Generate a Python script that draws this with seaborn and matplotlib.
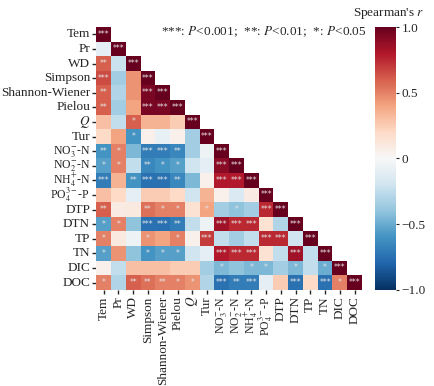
import numpy as np
import pandas as pd
import matplotlib
matplotlib.use("Agg")
import matplotlib.pyplot as plt
import seaborn as sns

# variable names (tick labels)
labels = ["Tem", "Pr", "WD", "Simpson", "Shannon-Wiener", "Pielou", "$Q$", "Tur",
          "NO$_3^{-}$-N", "NO$_2^{-}$-N", "NH$_4^{+}$-N", "PO$_4^{3-}$-P",
          "DTP", "DTN", "TP", "TN", "DIC", "DOC"]

# lower triangle of the Spearman correlation matrix, one row per variable
r_rows = [
    [1.0],
    [-0.10, 1.0],
    [0.60, -0.22, 1.0],
    [0.65, -0.35, 0.45, 1.0],
    [0.60, -0.30, 0.45, 0.95, 1.0],
    [0.60, -0.35, 0.40, 0.95, 0.95, 1.0],
    [0.30, -0.25, 0.60, 0.35, 0.35, 0.25, 1.0],
    [0.20, 0.40, -0.60, 0.05, -0.08, 0.05, -0.35, 1.0],
    [-0.60, 0.50, -0.45, -0.70, -0.70, -0.65, -0.35, -0.05, 1.0],
    [-0.55, 0.50, -0.25, -0.65, -0.60, -0.55, -0.20, -0.10, 0.90, 1.0],
    [-0.70, 0.35, -0.60, -0.75, -0.75, -0.65, -0.45, 0.05, 0.80, 0.80, 1.0],
    [0.30, 0.20, -0.10, 0.25, 0.25, 0.20, -0.20, 0.35, 0.05, -0.15, 0.08, 1.0],
    [0.60, 0.08, 0.10, 0.55, 0.50, 0.50, 0.15, 0.40, -0.35, -0.40, -0.35, 0.75, 1.0],
    [-0.55, 0.50, -0.40, -0.75, -0.75, -0.70, -0.25, -0.05, 0.85, 0.75, 0.75, 0.15, -0.30, 1.0],
    [0.50, 0.10, -0.05, 0.45, 0.40, 0.50, 0.05, 0.70, -0.25, -0.35, -0.25, 0.75, 0.75, -0.20, 1.0],
    [-0.55, 0.45, -0.40, -0.60, -0.55, -0.55, -0.20, -0.10, 0.80, 0.75, 0.75, 0.15, -0.25, 0.85, -0.25, 1.0],
    [0.05, -0.25, 0.30, 0.30, 0.30, 0.25, 0.25, -0.35, -0.45, -0.40, -0.45, -0.45, -0.35, -0.45, -0.25, -0.50, 1.0],
    [0.50, -0.30, 0.60, 0.55, 0.50, 0.50, 0.45, -0.30, -0.75, -0.70, -0.70, -0.10, 0.25, -0.75, 0.20, -0.75, 0.50, 1.0],
]

# significance marks, same layout as r_rows
sig_rows = [
    ["***"],
    ["", "***"],
    ["**", "", "***"],
    ["***", "", "", "***"],
    ["**", "", "", "***", "***"],
    ["**", "", "", "***", "***", "***"],
    ["", "", "*", "", "", "", "***"],
    ["", "", "*", "", "", "", "", "***"],
    ["**", "*", "", "***", "***", "**", "", "", "***"],
    ["*", "*", "", "**", "*", "*", "", "", "***", "***"],
    ["***", "", "**", "***", "***", "**", "", "", "***", "***", "***"],
    ["", "", "", "", "", "", "", "", "", "", "", "***"],
    ["**", "", "", "**", "*", "*", "", "*", "", "*", "", "***", "***"],
    ["*", "*", "", "***", "***", "**", "", "", "***", "***", "***", "", "", "***"],
    ["*", "", "", "*", "", "*", "", "***", "", "", "", "***", "***", "", "***"],
    ["*", "", "", "*", "*", "*", "", "", "***", "***", "***", "", "", "***", "", "***"],
    ["", "", "", "", "", "", "", "", "*", "", "*", "*", "", "*", "", "*", "***"],
    ["*", "", "**", "**", "**", "*", "*", "", "***", "**", "***", "", "", "***", "", "***", "*", "***"],
]

n = len(labels)
r = np.zeros((n, n))
stars = np.full((n, n), "", dtype=object)
for i in range(n):
    for j in range(i + 1):
        r[i, j] = r_rows[i][j]
        r[j, i] = r_rows[i][j]
        stars[i, j] = sig_rows[i][j]

corr = pd.DataFrame(r, index=labels, columns=labels)
mask = np.triu(np.ones((n, n), dtype=bool), k=1)

sns.set_style("ticks")
plt.rcParams["font.family"] = ["Liberation Serif", "DejaVu Serif"]
plt.rcParams["mathtext.fontset"] = "stix"
plt.rcParams["axes.unicode_minus"] = True

fig = plt.figure(figsize=(4.34, 3.86), dpi=100)
ax = fig.add_axes([0.222, 0.249, 0.612, 0.681])
cax = fig.add_axes([0.864, 0.249, 0.048, 0.681])

sns.heatmap(corr, mask=mask, cmap="RdBu_r", vmin=-1, vmax=1, ax=ax, cbar_ax=cax,
            annot=stars, fmt="", annot_kws={"color": "#e6e6e6", "fontsize": 5.5,
                                           "family": "DejaVu Sans"},
            square=False, linewidths=0)

ax.set_xticks(np.arange(n) + 0.5)
ax.set_yticks(np.arange(n) + 0.5)
ax.set_xticklabels(labels, rotation=90, fontsize=9.5)
ax.set_yticklabels(labels, rotation=0, fontsize=9.5)
# chemical labels carry sub/superscripts, keep them a touch smaller
for lab in ax.get_xticklabels() + ax.get_yticklabels():
    if "$_" in lab.get_text():
        lab.set_fontsize(8.5)
ax.tick_params(length=3, width=1, pad=1.5)

# colorbar
cbar = ax.collections[0].colorbar
cbar.set_ticks([-1.0, -0.5, 0, 0.5, 1.0])
cbar.set_ticklabels(["\u22121.0", "\u22120.5", "0", "0.5", "1.0"])
cbar.ax.tick_params(labelsize=9.5, length=2.5, width=0.8, pad=1.5)
cbar.outline.set_visible(False)

fig.text(0.895, 0.965, "Spearman's $r$", ha="center", va="center", fontsize=9.5)
fig.text(0.845, 0.918, "***: $P$<0.001;  **: $P$<0.01;  *: $P$<0.05",
         ha="right", va="center", fontsize=9.5)

fig.savefig("out.png", dpi=100)
